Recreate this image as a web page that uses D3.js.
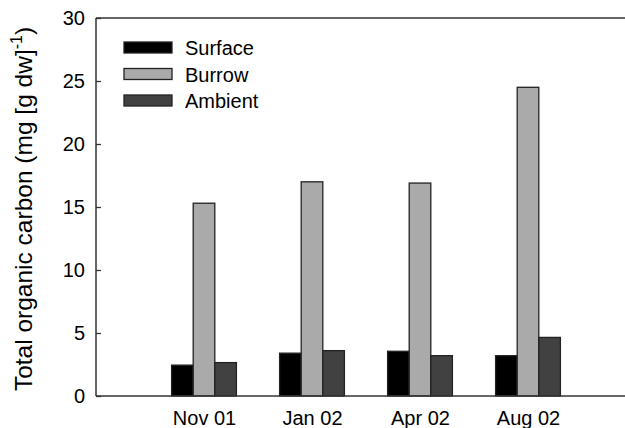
<!DOCTYPE html>
<html>
<head>
<meta charset="utf-8">
<script src="https://cdn.jsdelivr.net/npm/d3@7"></script>
<style>
  html, body { margin: 0; padding: 0; background: #fff; }
  svg { display: block; }
  text { font-family: "Liberation Sans", Arial, Helvetica, sans-serif; fill: #000; }
</style>
</head>
<body>
<svg id="chart" width="625" height="428"></svg>
<script>
// Sampling dates and sediment compartments
const months = ["Nov 01", "Jan 02", "Apr 02", "Aug 02"];
const seriesNames = ["Surface", "Burrow", "Ambient"];
const surface = [2.45, 3.4, 3.55, 3.2];
const burrow  = [15.3, 17.0, 16.9, 24.5];
const ambient = [2.65, 3.6, 3.2, 4.65];
const yTicks = [0, 5, 10, 15, 20, 25, 30];
const seriesValues = [surface, burrow, ambient];
const fills = ["#000000", "#aaaaaa", "#414141"];

const svg = d3.select("#chart");
const plotLeft = 96, plotRight = 636, plotTop = 18, plotBottom = 396;

// Months sit at positions 1..4 along a continuous axis starting at 0
const x = d3.scaleLinear().domain([0, 5]).range([plotLeft, plotRight]);
const y = d3.scaleLinear().domain([0, 30]).range([plotBottom, plotTop]);
const inner = d3.scaleBand().domain(seriesNames).range([-0.3, 0.3]);

// Bars
seriesNames.forEach((name, si) => {
  svg.append("g")
    .selectAll("rect")
    .data(seriesValues[si])
    .join("rect")
    .attr("x", (d, i) => x(i + 1 + inner(name)))
    .attr("width", x(inner.bandwidth()) - x(0))
    .attr("y", d => y(d))
    .attr("height", d => y(0) - y(d))
    .attr("fill", fills[si])
    .attr("stroke", "#222")
    .attr("stroke-width", 1.3);
});

// Frame lines: left axis, top and bottom edges
const frame = svg.append("g").attr("stroke", "#333").attr("stroke-width", 1.5).attr("fill", "none");
frame.append("line").attr("x1", plotLeft).attr("x2", plotLeft).attr("y1", y(30)).attr("y2", y(0));
frame.append("line").attr("x1", plotLeft).attr("x2", plotRight).attr("y1", y(30)).attr("y2", y(30));
frame.append("line").attr("x1", plotLeft).attr("x2", plotRight).attr("y1", y(0)).attr("y2", y(0));

// Y axis with inward ticks
const yAxis = d3.axisLeft(y).tickValues(yTicks).tickSize(-5).tickPadding(11).tickFormat(d3.format("d"));
const yg = svg.append("g").attr("transform", `translate(${plotLeft},0)`).call(yAxis);
yg.select(".domain").remove();
yg.selectAll(".tick line").attr("stroke", "#333").attr("stroke-width", 1.3);
yg.selectAll(".tick text").attr("font-size", 20).attr("font-family", "Liberation Sans, Arial, sans-serif").attr("fill", "#000");

// X axis labels (no tick marks)
const xAxis = d3.axisBottom(x).tickValues([1, 2, 3, 4]).tickSize(0).tickPadding(15)
  .tickFormat(d => months[d - 1]);
const xg = svg.append("g").attr("transform", `translate(0,${plotBottom})`).call(xAxis);
xg.select(".domain").remove();
xg.selectAll(".tick text").attr("font-size", 20).attr("font-family", "Liberation Sans, Arial, sans-serif").attr("fill", "#000");

// Y axis title
const title = svg.append("text")
  .attr("transform", `translate(32,209) rotate(-90)`)
  .attr("text-anchor", "middle")
  .attr("font-size", 24.5);
title.append("tspan").text("Total organic carbon (mg [g dw]");
title.append("tspan").attr("font-size", 16).attr("dy", -10).text("-1");
title.append("tspan").attr("dy", 10).text(")");

// Legend
const legend = svg.append("g").attr("transform", "translate(124,42)");
seriesNames.forEach((name, i) => {
  const row = legend.append("g").attr("transform", `translate(0,${i * 26.5})`);
  row.append("rect").attr("width", 48).attr("height", 11)
    .attr("fill", fills[i]).attr("stroke", "#222").attr("stroke-width", 1.3);
  row.append("text").attr("x", 61).attr("y", 13).attr("font-size", 20).text(name);
});
</script>
</body>
</html>
